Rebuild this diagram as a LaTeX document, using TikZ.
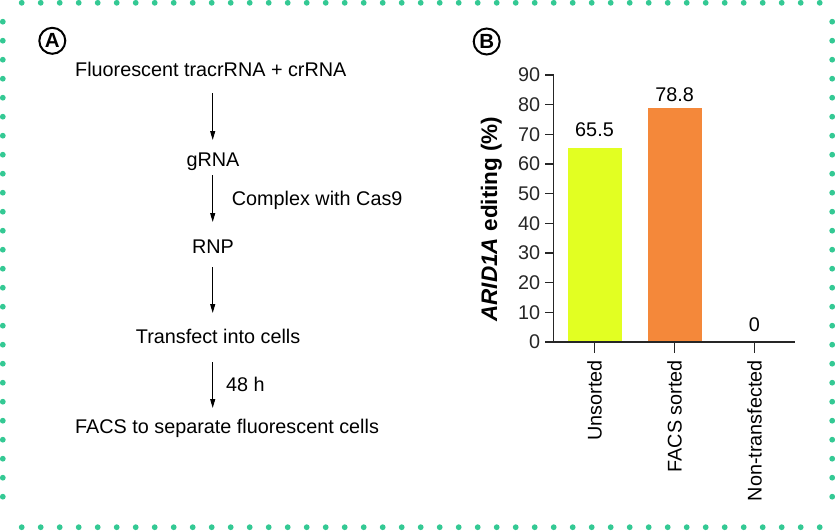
\documentclass[tikz,border=0pt]{standalone}
\usepackage{fontspec}
\setmainfont{Liberation Sans}
\usetikzlibrary{arrows.meta}
\definecolor{dotgreen}{RGB}{52,201,148}
\definecolor{barlime}{RGB}{226,255,34}
\definecolor{barorange}{RGB}{244,136,58}
\begin{document}
\begin{tikzpicture}[x=1pt, y=-1pt, flow/.style={-{Triangle[length=9pt,width=5pt]}, line width=1pt}, steptext/.style={inner sep=0pt, font=\fontsize{19.8}{24}\selectfont}, panel label/.style={circle,draw,line width=2pt,minimum size=26pt,inner sep=0pt,font=\fontsize{20.5}{24}\selectfont\bfseries}, axis line/.style={line width=1.5pt, black!85}]%
\useasboundingbox (0,0) rectangle (835,530);
% dotted frame
\foreach \x in {21.7,40.7,...,820} {\fill[dotgreen] (\x,2.8) circle (2.9pt); \fill[dotgreen] (\x,527.2) circle (2.9pt);}
\foreach \y in {21.7,40.7,...,510} {\fill[dotgreen] (2.8,\y) circle (2.9pt); \fill[dotgreen] (832.2,\y) circle (2.9pt);}
% panel A
\begin{scope}[every node/.style={steptext}]
\node[panel label] (pa) at (52.3,40.8) {A};
\node[anchor=base west] (fluor) at (75,76.7) {Fluorescent tracrRNA + crRNA};
\node[anchor=base] (grna) at (213,166) {gRNA};
\node[anchor=base] (rnp) at (213,253) {RNP};
\node[anchor=base west] (transf) at (135.7,343.3) {Transfect into cells};
\node[anchor=base west] (facs) at (75,433.3) {FACS to separate fluorescent cells};
\node[anchor=base west] (cplx) at (231.7,205) {Complex with Cas9};
\node[anchor=base west] (hours) at (226,391.7) {48 h};
%\node[anchor=base] () at (,) {};
\end{scope}
\begin{scope}
\foreach \i/\a/\b in {1/93/140, 2/175/222, 3/267/313, 4/362/408} {
\coordinate (t\i) at (212.7,\a);
\coordinate (h\i) at (212.7,\b);
\draw[flow] (t\i) -- (h\i);
}
\end{scope}
% panel B
\begin{scope}[every node/.style={steptext}]
\node[panel label] (pb) at (486.7,41.5) {B};
\fill[barlime] (567.5,342) rectangle (621.5,{342-65.5*2.9667});
\fill[barorange] (647.7,342) rectangle (701.7,{342-78.8*2.9667});
\coordinate (origin) at (553.5,342);
\coordinate (ytop) at (553.5,75);
\coordinate (xend) at (795,342);
\draw[axis line] (ytop) -- (origin) -- (xend);
\foreach \v in {0,10,...,90} {
\draw[axis line] (545,{342-\v*2.9667}) -- (553.5,{342-\v*2.9667}) node[pos=0,anchor=east,xshift=-4pt] (tick\v) {\v};
}
\foreach \n/\x/\t in {uns/594.5/Unsorted, srt/674.5/FACS sorted, non/754.3/Non-transfected} {
\draw[axis line] (\x,342) -- (\x,353);
\node[rotate=90, anchor=base east] (cat\n) at ({\x+7.2},360) {\t};
}
\node[anchor=base] (val1) at (594.5,136) {65.5};
\node[anchor=base] (val2) at (674.7,101.7) {78.8};
\node[anchor=base] (val3) at (754.3,331.7) {0};
\node[rotate=90, anchor=base, font=\fontsize{22.5}{26}\selectfont\bfseries] (ylab) at (497,219) {\textit{ARID1A} editing (\%)};
\end{scope}
\end{tikzpicture}
\end{document}
